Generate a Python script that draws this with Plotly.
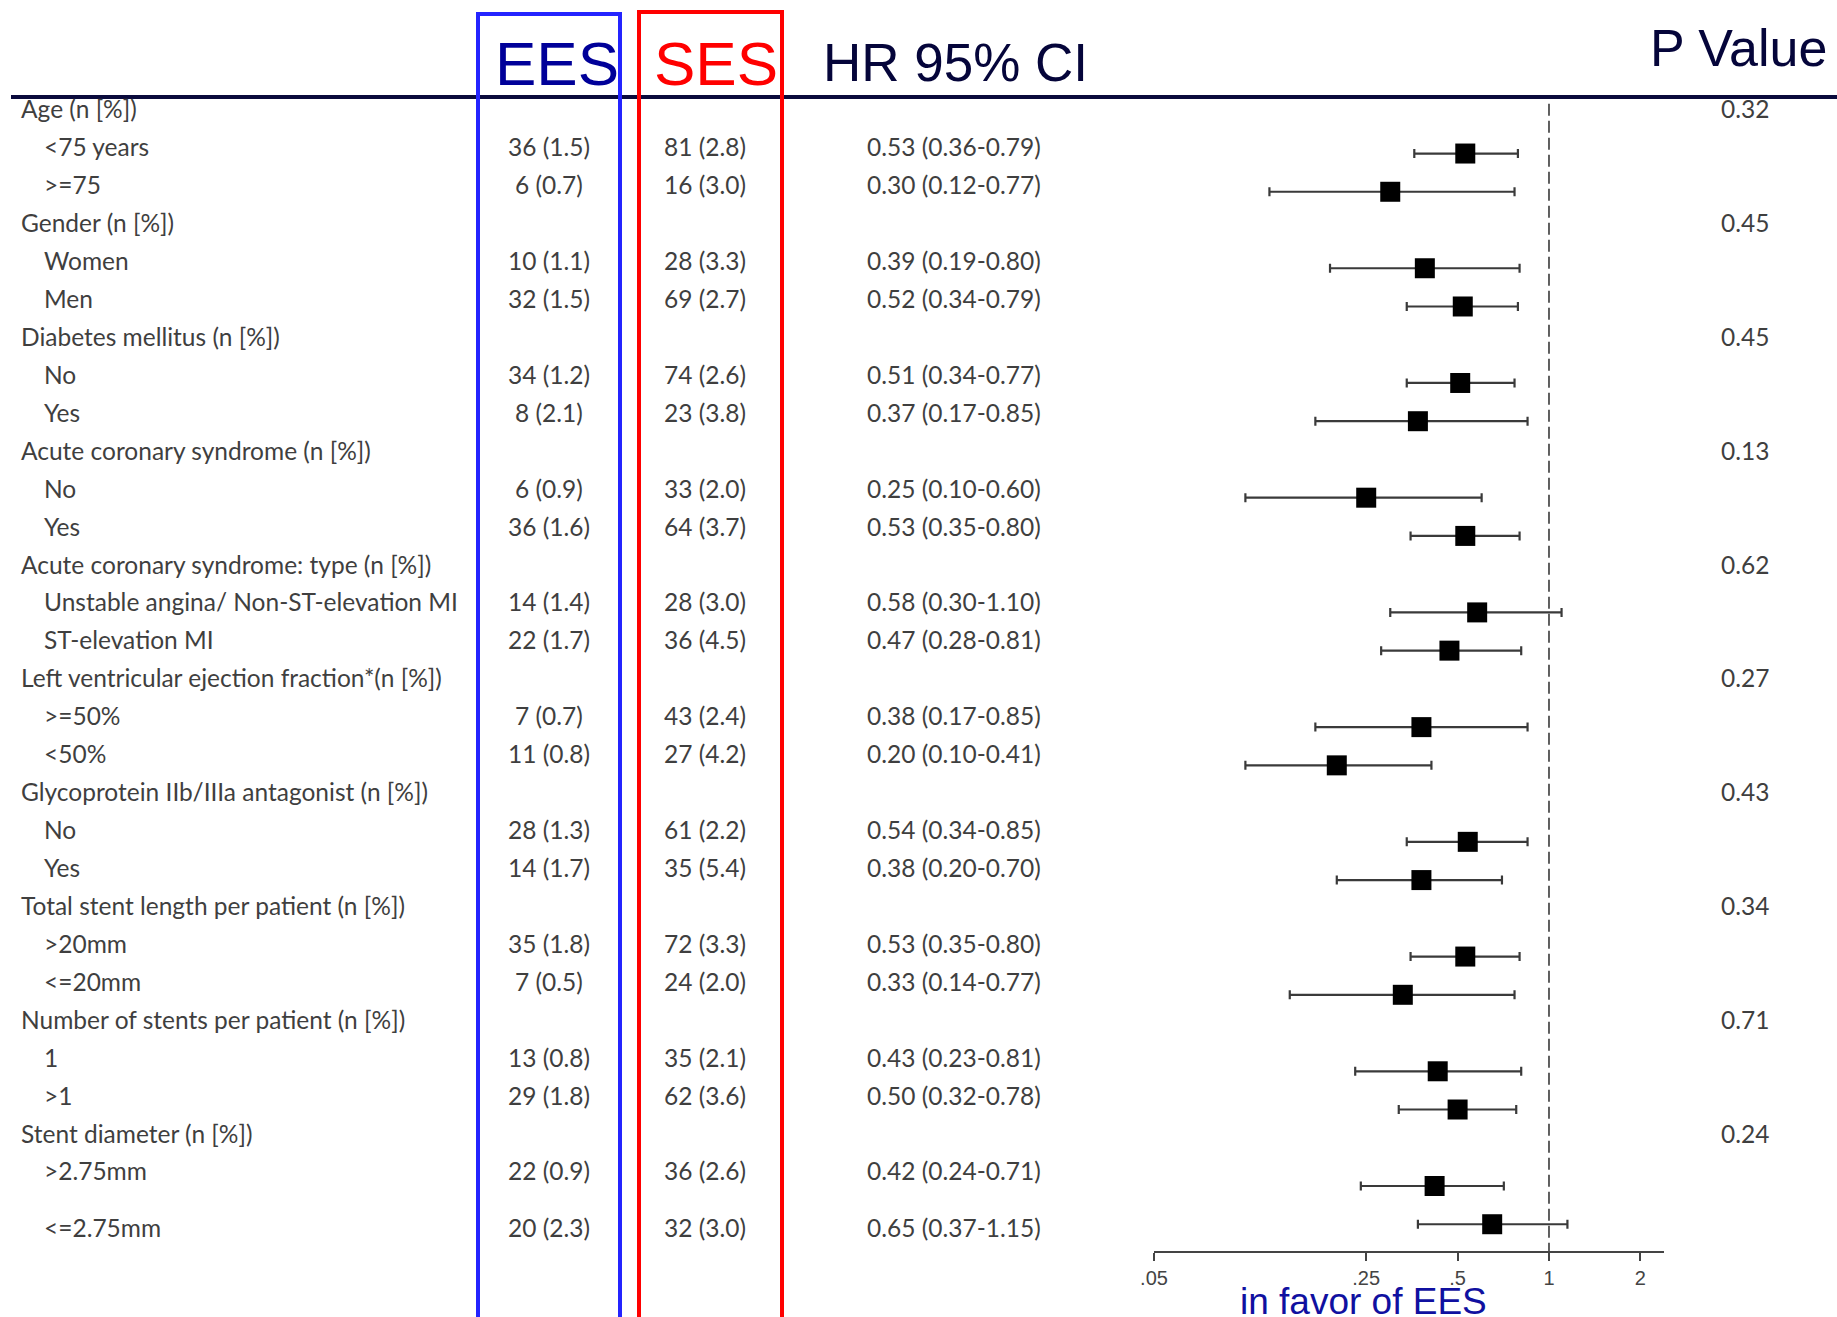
import math
import plotly.graph_objects as go

# ---------------- data ----------------
groups = ["Age (n [%])", "Gender (n [%])", "Diabetes mellitus (n [%])",
          "Acute coronary syndrome (n [%])", "Acute coronary syndrome: type (n [%])",
          "Left ventricular ejection fraction*(n [%])",
          "Glycoprotein IIb/IIIa antagonist (n [%])",
          "Total stent length per patient (n [%])",
          "Number of stents per patient (n [%])", "Stent diameter (n [%])"]
group_p = [0.32, 0.45, 0.45, 0.13, 0.62, 0.27, 0.43, 0.34, 0.71, 0.24]

subgroups = ["<75 years", ">=75", "Women", "Men", "No", "Yes", "No", "Yes",
             "Unstable angina/ Non-ST-elevation MI", "ST-elevation MI",
             ">=50%", "<50%", "No", "Yes", ">20mm", "<=20mm", "1", ">1",
             ">2.75mm", "<=2.75mm"]
ees_events = [36, 6, 10, 32, 34, 8, 6, 36, 14, 22, 7, 11, 28, 14, 35, 7, 13, 29, 22, 20]
ees_pct = [1.5, 0.7, 1.1, 1.5, 1.2, 2.1, 0.9, 1.6, 1.4, 1.7, 0.7, 0.8, 1.3, 1.7, 1.8, 0.5, 0.8, 1.8, 0.9, 2.3]
ses_events = [81, 16, 28, 69, 74, 23, 33, 64, 28, 36, 43, 27, 61, 35, 72, 24, 35, 62, 36, 32]
ses_pct = [2.8, 3.0, 3.3, 2.7, 2.6, 3.8, 2.0, 3.7, 3.0, 4.5, 2.4, 4.2, 2.2, 5.4, 3.3, 2.0, 2.1, 3.6, 2.6, 3.0]
hr = [0.53, 0.30, 0.39, 0.52, 0.51, 0.37, 0.25, 0.53, 0.58, 0.47, 0.38, 0.20, 0.54, 0.38, 0.53, 0.33, 0.43, 0.50, 0.42, 0.65]
hr_lo = [0.36, 0.12, 0.19, 0.34, 0.34, 0.17, 0.10, 0.35, 0.30, 0.28, 0.17, 0.10, 0.34, 0.20, 0.35, 0.14, 0.23, 0.32, 0.24, 0.37]
hr_hi = [0.79, 0.77, 0.80, 0.79, 0.77, 0.85, 0.60, 0.80, 1.10, 0.81, 0.85, 0.41, 0.85, 0.70, 0.80, 0.77, 0.81, 0.78, 0.71, 1.15]

axis_ticks = [0.05, 0.25, 0.5, 1, 2]
axis_ticktext = [".05", ".25", ".5", "1", "2"]

# ---------------- layout helpers ----------------
W, H = 1837, 1317
n_sub = 2
sub_rows = [3 * (k // n_sub) + 1 + (k % n_sub) for k in range(len(subgroups))]
group_rows = [3 * g for g in range(len(groups))]
n_rows = 3 * len(groups)

# text row positions (last row sits a bit lower in the original)
def text_row(r):
    return r + (0.48 if r == n_rows - 1 else 0)

TEXT_FONT = "Lato, 'Open Sans', sans-serif"
TEXT_COL = "#3f3f3f"
TS = 24.5

fig = go.Figure()

# forest: whiskers + squares on log axis
fig.add_trace(go.Scatter(
    x=hr, y=sub_rows, mode="markers",
    marker=dict(symbol="square", size=20, color="black"),
    error_x=dict(type="data", symmetric=False,
                 array=[h - m for h, m in zip(hr_hi, hr)],
                 arrayminus=[m - l for m, l in zip(hr, hr_lo)],
                 color="#3a3a3a", thickness=2.2, width=4.5),
    xaxis="x", yaxis="y", hoverinfo="skip", showlegend=False))

# reference line at HR = 1
fig.add_trace(go.Scatter(
    x=[1, 1], y=[-0.3, 29.70], mode="lines",
    line=dict(color="#3a3a3a", width=1.6, dash="12px,5px"),
    xaxis="x", yaxis="y", hoverinfo="skip", showlegend=False))

# dummy trace for text subplot
fig.add_trace(go.Scatter(x=[], y=[], xaxis="x2", yaxis="y2", showlegend=False))

ann = []
def txt(text, xpx, y, anchor):
    return dict(text=text, x=xpx / W, xref="paper", y=y, yref="y2",
                xanchor=anchor, yanchor="middle", showarrow=False,
                font=dict(family=TEXT_FONT, size=TS, color=TEXT_COL))

for g, r in enumerate(group_rows):
    ann.append(txt(groups[g], 19, text_row(r), "left"))
    ann.append(txt(f"{group_p[g]:.2f}", 1745, text_row(r), "center"))
for k, r in enumerate(sub_rows):
    yy = text_row(r)
    ann.append(txt(subgroups[k], 42, yy, "left"))
    ann.append(txt(f"{ees_events[k]} ({ees_pct[k]:.1f})", 549, yy, "center"))
    ann.append(txt(f"{ses_events[k]} ({ses_pct[k]:.1f})", 705, yy, "center"))
    ann.append(txt(f"{hr[k]:.2f} ({hr_lo[k]:.2f}-{hr_hi[k]:.2f})", 865, yy, "left"))

# column titles
TITLE_FONT = "'Liberation Sans', Arial, sans-serif"
ann += [
    dict(text="EES", x=557 / W, y=1 - 64 / H, xref="paper", yref="paper", xanchor="center", yanchor="middle",
         showarrow=False, font=dict(family=TITLE_FONT, size=62, color="#000099")),
    dict(text="SES", x=716 / W, y=1 - 64 / H, xref="paper", yref="paper", xanchor="center", yanchor="middle",
         showarrow=False, font=dict(family=TITLE_FONT, size=62, color="#ff0000")),
    dict(text="HR 95% CI", x=821 / W, y=1 - 63 / H, xref="paper", yref="paper", xanchor="left", yanchor="middle",
         showarrow=False, font=dict(family=TITLE_FONT, size=53, color="#05053a")),
    dict(text="P Value", x=1829 / W, y=1 - 48 / H, xref="paper", yref="paper", xanchor="right", yanchor="middle",
         showarrow=False, font=dict(family=TITLE_FONT, size=52, color="#05053a")),
    dict(text="in favor of EES", x=1363 / W, y=0, xref="paper", yref="paper", xanchor="center", yanchor="bottom",
         yshift=-7, showarrow=False, font=dict(family=TITLE_FONT, size=37, color="#1010a0")),
]

shapes = [
    dict(type="line", xref="paper", yref="paper", x0=11 / W, x1=1, y0=1 - 97 / H, y1=1 - 97 / H,
         line=dict(color="#0a0a3c", width=4)),
    dict(type="rect", xref="paper", yref="paper", x0=478 / W, x1=620 / W, y0=-0.02, y1=1 - 14 / H,
         line=dict(color="#2424ff", width=4)),
    dict(type="rect", xref="paper", yref="paper", x0=639 / W, x1=782 / W, y0=-0.02, y1=1 - 12 / H,
         line=dict(color="#ff0000", width=4)),
]

# forest axis geometry (pixels): HR=1 at x=1549, 303.6 px per decade
x_left, x_right = 1154, 1664
axis_y = 1251
log_left = math.log10(axis_ticks[0])
log_right = log_left + (x_right - x_left) / 303.6

fig.update_layout(
    template="none",
    width=W, height=H, margin=dict(l=0, r=0, t=0, b=0, pad=0, autoexpand=False),
    paper_bgcolor="white", plot_bgcolor="rgba(0,0,0,0)",
    showlegend=False,
    xaxis=dict(type="log", domain=[x_left / W, x_right / W], range=[log_left, log_right],
               anchor="y", showline=True, linecolor="#444444", linewidth=2, automargin=False,
               ticks="outside", ticklen=8, tickwidth=1.5, tickcolor="#444444",
               tickvals=axis_ticks, ticktext=axis_ticktext, showgrid=False, zeroline=False,
               tickfont=dict(family="'Liberation Sans Narrow', 'Liberation Sans', Arial", size=20, color="#444444")),
    yaxis=dict(domain=[(H - axis_y) / H, 1], range=[29.70, -3.015], visible=False, automargin=False,
               showgrid=False, zeroline=False, anchor="x"),
    xaxis2=dict(domain=[0, 1], range=[0, 1], visible=False, anchor="y2", automargin=False),
    yaxis2=dict(domain=[0, 1], range=[31.85, -2.87], visible=False, anchor="x2", automargin=False),
    annotations=ann, shapes=shapes,
)

fig.write_html("out.html")
